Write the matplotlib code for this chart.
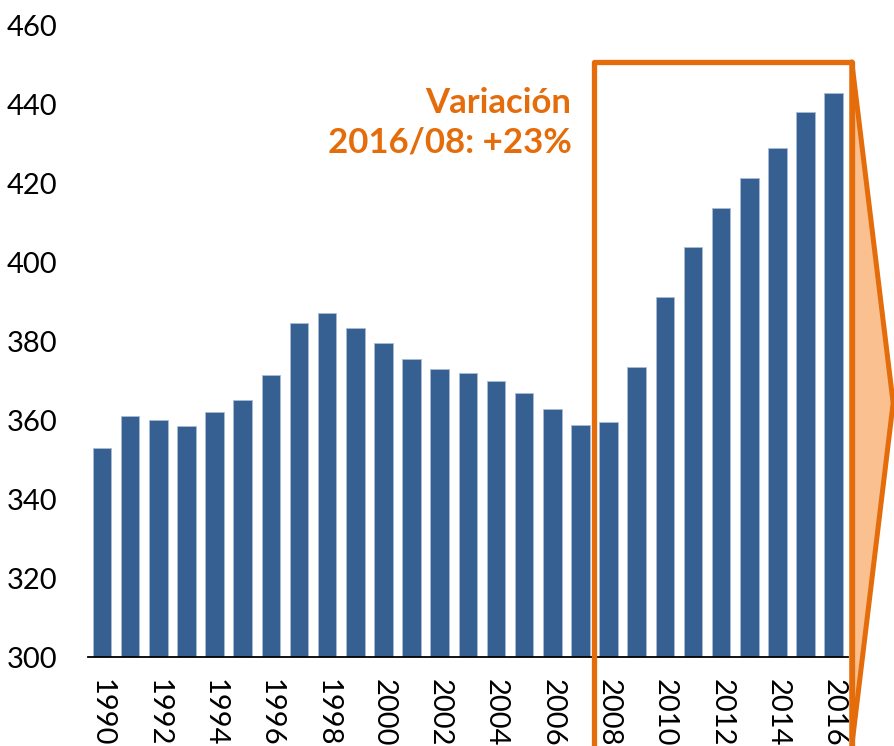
import matplotlib.pyplot as plt
from matplotlib.patches import Rectangle, Polygon

years = list(range(1990, 2017))
values = [353.0, 361.0, 359.9, 358.5, 362.0, 365.2, 371.3, 384.5, 387.1, 383.3,
          379.6, 375.4, 372.9, 371.8, 369.9, 366.8, 362.8, 358.7, 359.5, 373.4,
          391.1, 403.8, 413.7, 421.2, 428.8, 438.0, 442.7]
tick_years = years[::2]
note_lines = ["Variación", "2016/08: +23%"]

bar_color = "#376092"
orange = "#E46C0A"
light_orange = "#FAC090"

plt.rcParams['font.family'] = ['Lato', 'DejaVu Sans']

fig = plt.figure(figsize=(8.95, 7.46), dpi=100)
ax = fig.add_axes([0.0983, 0.1193, 0.849, 0.847])

x = list(range(len(years)))
ax.bar(x, values, width=0.66, bottom=0, color=bar_color,
       edgecolor="#a9bcd3", linewidth=0.6)

ax.set_ylim(300, 460)
ax.set_xlim(-0.5, len(years) - 0.5)
ax.set_yticks(range(300, 461, 20))
ax.set_xticks([years.index(y) for y in tick_years])
ax.set_xticklabels([str(y) for y in tick_years], rotation=-90, va='top', ha='center')
ax.tick_params(axis='y', length=0, labelsize=21, pad=22)
ax.tick_params(axis='x', length=0, labelsize=21, pad=16)

for side in ['left', 'right', 'top']:
    ax.spines[side].set_visible(False)
ax.spines['bottom'].set_linewidth(1.3)

# caja 2008-2016 con flecha
i08 = years.index(2008)
x0 = i08 - 0.52
x1 = len(years) - 1 + 0.64
y_top = 450.7
y_bot = 277.0
arrow = Polygon([(x1, y_top), (x1 + 1.47, 364.3), (x1, y_bot + 0.5)], closed=True,
                facecolor=light_orange, edgecolor=orange, linewidth=3.6,
                clip_on=False, joinstyle='round', zorder=3)
ax.add_patch(arrow)
box = Rectangle((x0, y_bot), x1 - x0, y_top - y_bot, fill=False,
                edgecolor=orange, linewidth=3.8, clip_on=False,
                joinstyle='round', zorder=4)
ax.add_patch(box)

ax.text(x0 - 0.8, 435.3, "\n".join(note_lines), ha='right', va='center',
        color=orange, fontsize=25, fontweight='bold', linespacing=1.3)

fig.savefig("out.png", dpi=100)
